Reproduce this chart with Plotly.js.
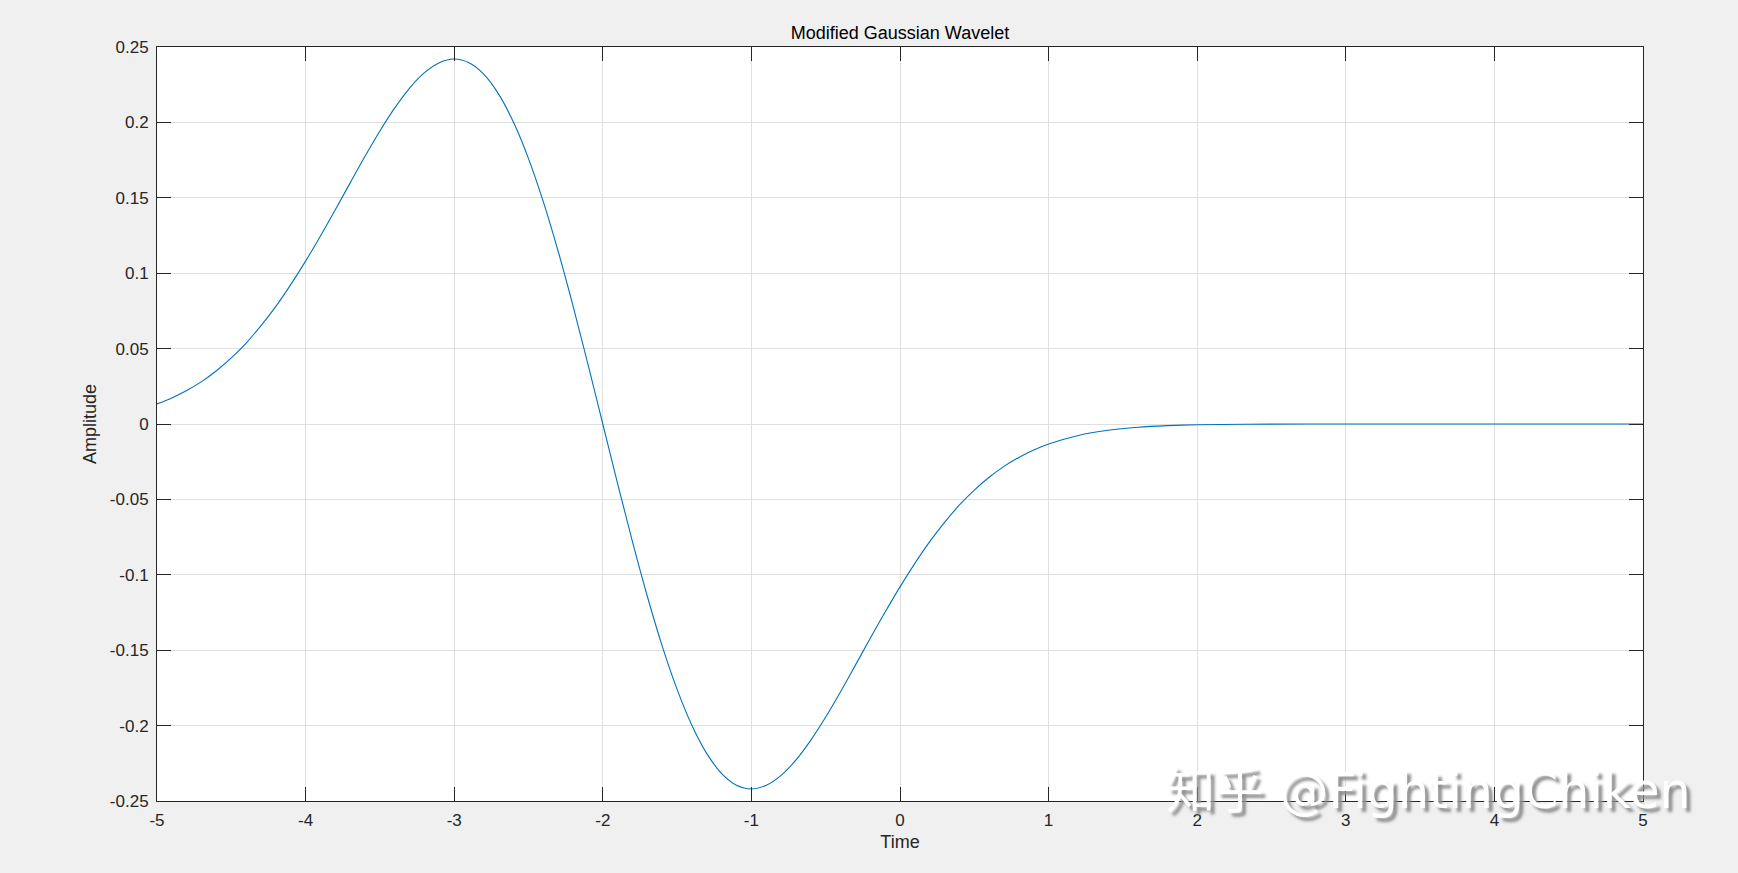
<!DOCTYPE html>
<html>
<head>
<meta charset="utf-8">
<script src="https://cdn.plot.ly/plotly-3.0.1.min.js"></script>
<style>html,body{margin:0;padding:0;background:#f0f0f0;}#chart{width:1738px;height:873px;}</style>
</head>
<body>
<div id="chart"></div>
<script>
const time = [-5.0,-4.9,-4.8,-4.7,-4.6,-4.5,-4.4,-4.3,-4.2,-4.1,-4.0,-3.9,-3.8,-3.7,-3.6,-3.5,-3.4,-3.3,-3.2,-3.1,-3.0,-2.9,-2.8,-2.7,-2.6,-2.5,-2.4,-2.3,-2.2,-2.1,-2.0,-1.9,-1.8,-1.7,-1.6,-1.5,-1.4,-1.3,-1.2,-1.1,-1.0,-0.9,-0.8,-0.7,-0.6,-0.5,-0.4,-0.3,-0.2,-0.1,0.0,0.1,0.2,0.3,0.4,0.5,0.6,0.7,0.8,0.9,1.0,1.2,1.4,1.6,1.8,2.0,2.5,3.0,3.5,4.0,4.5,5.0];
const amplitude = [0.0133,0.0173,0.0222,0.0281,0.0353,0.0438,0.0537,0.0652,0.0780,0.0924,0.1080,0.1247,0.1421,0.1599,0.1775,0.1943,0.2096,0.2228,0.2330,0.2396,0.2420,0.2395,0.2318,0.2186,0.1999,0.1760,0.1473,0.1144,0.0782,0.0397,0.0,-0.0397,-0.0782,-0.1144,-0.1473,-0.1760,-0.1999,-0.2186,-0.2318,-0.2395,-0.2420,-0.2396,-0.2330,-0.2228,-0.2096,-0.1943,-0.1775,-0.1599,-0.1421,-0.1247,-0.1080,-0.0924,-0.0780,-0.0652,-0.0537,-0.0438,-0.0353,-0.0281,-0.0222,-0.0173,-0.0133,-0.0076,-0.0042,-0.0022,-0.0011,-0.0005,-0.0001,0.0,0.0,0.0,0.0,0.0];
const xTickVals = [-5,-4,-3,-2,-1,0,1,2,3,4,5];
const xTickText = ["-5","-4","-3","-2","-1","0","1","2","3","4","5"];
const yTickVals = [-0.25,-0.2,-0.15,-0.1,-0.05,0,0.05,0.1,0.15,0.2,0.25];
const yTickText = ["-0.25","-0.2","-0.15","-0.1","-0.05","0","0.05","0.1","0.15","0.2","0.25"];
const chartTitle = "Modified Gaussian Wavelet";
const xLabel = "Time";
const yLabel = "Amplitude";
const watermark = "知乎 @FightingChiken";

const fontFam = "Liberation Sans, Arial, Helvetica, sans-serif";
const axisCommon = {
  ticks: "inside", ticklen: 14, tickwidth: 1, tickcolor: "#262626",
  showline: true, linecolor: "#262626", linewidth: 1, mirror: "ticks",
  showgrid: true, gridcolor: "#dfdfdf", gridwidth: 1, zeroline: false,
  tickmode: "array", tickfont: {family: fontFam, size: 17, color: "#262626"},
  fixedrange: true
};
const trace = {
  x: time, y: amplitude, type: "scatter", mode: "lines",
  line: {color: "#0072BD", width: 1.1, shape: "spline", smoothing: 1},
  hoverinfo: "skip"
};
const layout = {
  width: 1738, height: 873,
  margin: {l: 157, r: 95, t: 47, b: 72},
  paper_bgcolor: "#f0f0f0", plot_bgcolor: "#ffffff",
  showlegend: false,
  title: {text: chartTitle, font: {family: fontFam, size: 18, color: "#000000"}, x: 0.5, xanchor: "center", y: 1 - 33/873, yanchor: "middle", xref: "paper"},
  xaxis: Object.assign({}, axisCommon, {range: [-5, 5], tickvals: xTickVals, ticktext: xTickText, ticklabelstandoff: 4,
    title: {text: xLabel, font: {family: fontFam, size: 18, color: "#262626"}, standoff: 5}}),
  yaxis: Object.assign({}, axisCommon, {range: [-0.25, 0.25], tickvals: yTickVals, ticktext: yTickText, ticklabelstandoff: 4,
    title: {text: yLabel, font: {family: fontFam, size: 18, color: "#262626"}, standoff: 8}}),
  annotations: [{
    text: watermark, xref: "paper", yref: "paper", x: 0.8557, y: 0.0126,
    xanchor: "center", yanchor: "middle", showarrow: false,
    font: {family: "DejaVu Sans, Noto Sans CJK SC, sans-serif", size: 49, color: "#ffffff", shadow: "4px 4px 3px #8f8f8f"}
  }]
};
Plotly.newPlot("chart", [trace], layout, {displayModeBar: false, staticPlot: true});
</script>
</body>
</html>
